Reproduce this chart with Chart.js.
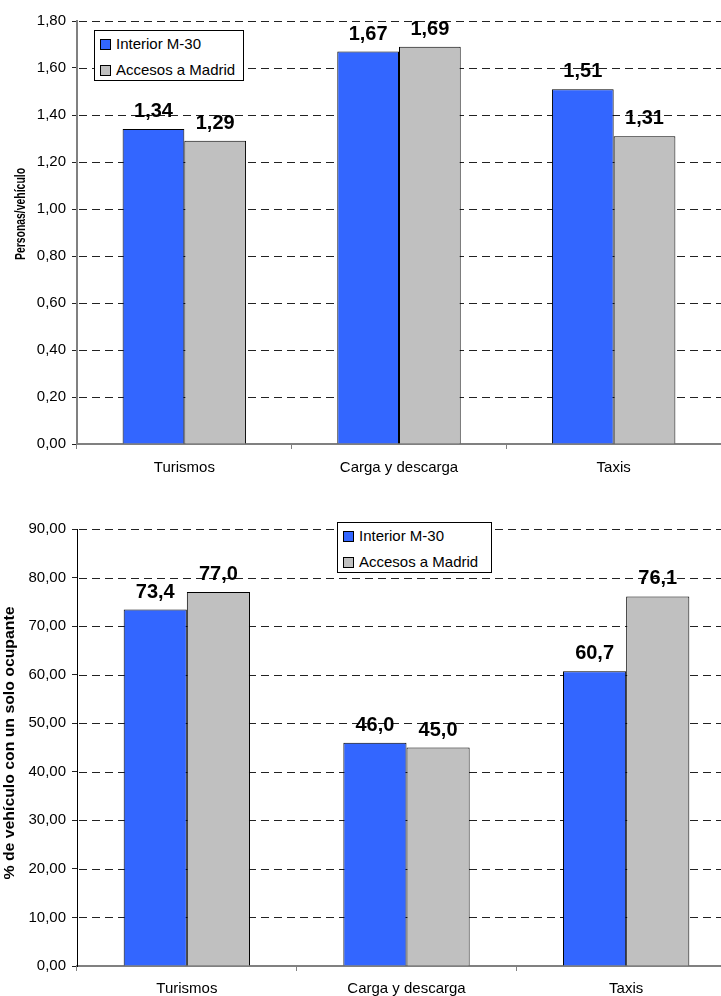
<!DOCTYPE html>
<html>
<head>
<meta charset="utf-8">
<script src="https://cdn.jsdelivr.net/npm/chart.js@4/dist/chart.umd.min.js"></script>
<style>
  html, body { margin: 0; padding: 0; background: #fff; overflow: hidden; }
  #wrap { position: relative; width: 721px; height: 996px; overflow: hidden; }
  canvas { position: absolute; left: 0; }
  #c1 { top: 0; }
  #c2 { top: 496px; }
  .legend {
    position: absolute; background: #fff; border: 1px solid #000;
    font: 15px "Liberation Sans", Arial, sans-serif; color: #000;
    box-sizing: border-box; padding: 0 0 0 5px;
  }
  .legend div { height: 26px; line-height: 26px; white-space: nowrap; }
  .legend span {
    display: inline-block; width: 9px; height: 9px; border: 1px solid #000;
    margin-right: 5px; vertical-align: -1px;
  }
</style>
</head>
<body>
<div id="wrap">
  <canvas id="c1" width="721" height="496"></canvas>
  <canvas id="c2" width="740" height="500"></canvas>
  <div class="legend" id="leg1" style="left:94px; top:30px; width:150px; height:51px;"></div>
  <div class="legend" id="leg2" style="left:337px; top:522px; width:155px; height:51px;"></div>
</div>
<script>
// ==== DATA ====
const categories   = ['Turismos', 'Carga y descarga', 'Taxis'];
const seriesNames  = ['Interior M-30', 'Accesos a Madrid'];
const seriesColors = ['#3366FF', '#C0C0C0'];

// personas por vehiculo
const occInterior = [1.34, 1.67, 1.51];
const occAccesos  = [1.29, 1.69, 1.31];

// % de vehiculos con un solo ocupante
const soloInterior = [73.4, 46.0, 60.7];
const soloAccesos  = [77.0, 45.0, 76.1];

const FONT = '"Liberation Sans", Arial, sans-serif';
const DASH = [8, 5];

// ==== LEGENDS (html) ====
['leg1', 'leg2'].forEach(id => {
  const box = document.getElementById(id);
  seriesNames.forEach((name, i) => {
    const row = document.createElement('div');
    row.innerHTML = `<span style="background:${seriesColors[i]}"></span>${name}`;
    box.appendChild(row);
  });
});

// ==== PLUGINS ====
// dashed horizontal grid, drawn behind the bars at each y tick
const dashGrid = {
  id: 'dashGrid',
  beforeDatasetsDraw(chart) {
    const ctx = chart.ctx, y = chart.scales.y, area = chart.chartArea;
    ctx.save();
    ctx.strokeStyle = '#222';
    ctx.lineWidth = 1;
    ctx.setLineDash(DASH);
    y.ticks.forEach(t => {
      if (t.value === 0) return;
      const py = Math.round(y.getPixelForValue(t.value)) + 0.5;
      ctx.beginPath();
      ctx.moveTo(area.left + 2, py);
      ctx.lineTo(area.right, py);
      ctx.stroke();
    });
    ctx.restore();
  }
};

// value labels above each bar
const valueLabels = {
  id: 'valueLabels',
  afterDatasetsDraw(chart, args, opts) {
    const ctx = chart.ctx;
    ctx.save();
    ctx.font = 'bold 20px ' + FONT;
    ctx.fillStyle = '#000';
    ctx.textAlign = 'center';
    ctx.textBaseline = 'alphabetic';
    chart.data.datasets.forEach((ds, di) => {
      chart.getDatasetMeta(di).data.forEach((bar, i) => {
        const txt = ds.data[i].toFixed(opts.decimals).replace('.', ',');
        ctx.fillText(txt, bar.x, bar.y - 12);
      });
    });
    ctx.restore();
  }
};

// rotated y title, squeezed to a given length like the original
const yTitle = {
  id: 'yTitle',
  afterDraw(chart, args, opts) {
    const ctx = chart.ctx;
    ctx.save();
    ctx.font = 'bold ' + opts.size + 'px ' + FONT;
    ctx.fillStyle = '#000';
    ctx.textAlign = 'center';
    ctx.textBaseline = 'alphabetic';
    ctx.translate(opts.x, opts.y);
    ctx.rotate(-Math.PI / 2);
    const w = ctx.measureText(opts.text).width;
    if (opts.length) ctx.scale(opts.length / w, 1);
    ctx.fillText(opts.text, 0, 0);
    ctx.restore();
  }
};

// ==== CHART BUILDER ====
function makeChart(canvasId, dataA, dataB, cfg) {
  return new Chart(document.getElementById(canvasId), {
    type: 'bar',
    data: {
      labels: categories,
      datasets: [dataA, dataB].map((d, i) => ({
        label: seriesNames[i],
        data: d,
        backgroundColor: seriesColors[i],
        borderColor: '#000',
        borderWidth: 1,
        categoryPercentage: 0.575,
        barPercentage: 1.0
      }))
    },
    options: {
      responsive: false,
      animation: false,
      layout: { padding: { top: cfg.padTop, right: cfg.padRight, bottom: 0, left: 0 } },
      plugins: {
        legend: { display: false },
        tooltip: { enabled: false },
        valueLabels: { decimals: cfg.decimals },
        yTitle: cfg.title
      },
      scales: {
        x: {
          grid: { drawOnChartArea: false, drawTicks: true, tickLength: 5, color: '#808080' },
          border: { color: '#808080', width: 2 },
          ticks: { font: { family: FONT, size: 15 }, color: '#000', padding: cfg.xPad },
          afterFit: s => { s.height = cfg.xHeight; }
        },
        y: {
          min: 0,
          max: cfg.max,
          ticks: {
            stepSize: cfg.step,
            font: { family: FONT, size: 15 },
            color: '#000',
            padding: 6,
            callback: v => v.toFixed(2).replace('.', ',')
          },
          grid: { drawOnChartArea: false, color: '#222', tickLength: 5 },
          border: { color: cfg.yAxisColor, width: cfg.yAxisWidth },
          afterFit: s => { s.width = 77; }
        }
      }
    },
    plugins: [dashGrid, valueLabels, yTitle]
  });
}

// ==== CHARTS ====
makeChart('c1', occInterior, occAccesos, {
  padTop: 21, padRight: 0, xHeight: 52, xPad: 10,
  max: 1.8, step: 0.2, decimals: 2,
  yAxisColor: '#808080', yAxisWidth: 2,
  title: { text: 'Personas/vehículo', size: 15, x: 25, y: 214, length: 92 }
});

makeChart('c2', soloInterior, soloAccesos, {
  padTop: 33, padRight: 4, xHeight: 30, xPad: 9,
  max: 90, step: 10, decimals: 1,
  yAxisColor: '#000', yAxisWidth: 1,
  title: { text: '% de vehículo con un solo ocupante', size: 15, x: 14, y: 247, length: 273 }
});
</script>
</body>
</html>
